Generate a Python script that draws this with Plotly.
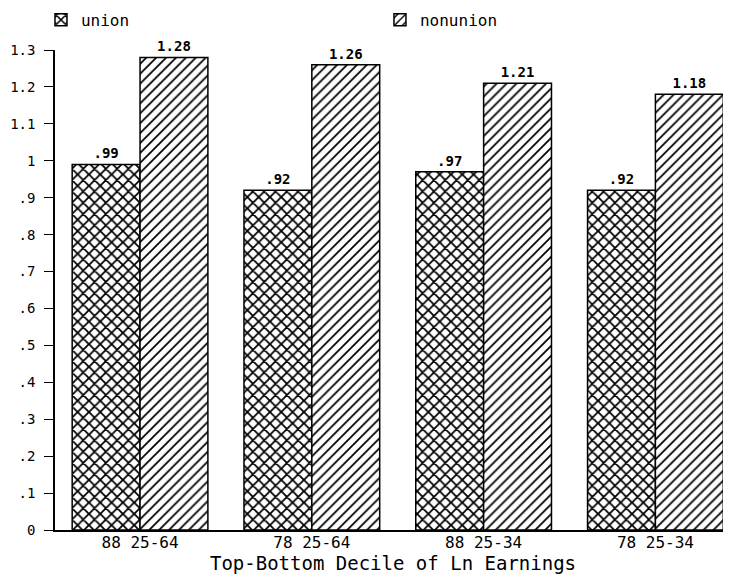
import plotly.graph_objects as go

categories = ["88 25-64", "78 25-64", "88 25-34", "78 25-34"]
union = [0.99, 0.92, 0.97, 0.92]
nonunion = [1.28, 1.26, 1.21, 1.18]
union_labels = [".99", ".92", ".97", ".92"]
nonunion_labels = ["1.28", "1.26", "1.21", "1.18"]
ytick_vals = [0, 0.1, 0.2, 0.3, 0.4, 0.5, 0.6, 0.7, 0.8, 0.9, 1.0, 1.1, 1.2, 1.3]
ytick_text = ["0", ".1", ".2", ".3", ".4", ".5", ".6", ".7", ".8", ".9", "1", "1.1", "1.2", "1.3"]

xpos = list(range(len(categories)))
mono = "DejaVu Sans Mono"

fig = go.Figure()
fig.add_trace(go.Bar(
    x=xpos, y=union, name="union", text=union_labels, textposition="outside",
    cliponaxis=False,
    textfont=dict(family=mono, size=14, color="black", weight="bold"),
    marker=dict(color="white", line=dict(color="black", width=1.5),
                pattern=dict(shape="x", fgcolor="black", fgopacity=1, bgcolor="white", size=8, solidity=0.4)),
))
fig.add_trace(go.Bar(
    x=xpos, y=nonunion, name="nonunion", text=nonunion_labels, textposition="outside",
    cliponaxis=False,
    textfont=dict(family=mono, size=14, color="black", weight="bold"),
    marker=dict(color="white", line=dict(color="black", width=1.5),
                pattern=dict(shape="/", fgcolor="black", fgopacity=1, bgcolor="white", size=7, solidity=0.25)),
))

fig.update_layout(
    width=723, height=567,
    margin=dict(l=47, r=0, t=42, b=45, autoexpand=False),
    paper_bgcolor="white", plot_bgcolor="white",
    barmode="group", bargap=0.21, bargroupgap=0,
    font=dict(family=mono, size=14, color="black"),
    showlegend=True,
    legend=dict(orientation="h", xref="container", yref="container",
                x=0.0456, y=0.979, xanchor="left", yanchor="middle",
                entrywidth=294, entrywidthmode="pixels",
                font=dict(family=mono, size=16), itemwidth=30, bgcolor="rgba(0,0,0,0)"),
    xaxis=dict(
        range=[-0.495, 3.44], tickvals=xpos, ticktext=categories,
        showgrid=False, zeroline=False, showline=True, linecolor="black", linewidth=1.5,
        ticks="", tickfont=dict(family=mono, size=16), automargin=False, ticklabelstandoff=-3,
        title=dict(text="Top-Bottom Decile of Ln Earnings", font=dict(family=mono, size=19), standoff=0),
    ),
    yaxis=dict(
        range=[0, 1.3], tickvals=ytick_vals, ticktext=ytick_text, automargin=False,
        showgrid=False, zeroline=False, showline=True, linecolor="black", linewidth=1.5,
        ticks="outside", ticklen=9, tickwidth=1.2, tickcolor="black", ticklabelstandoff=6,
        tickfont=dict(family=mono, size=14),
    ),
)

fig.write_html("out.html")
